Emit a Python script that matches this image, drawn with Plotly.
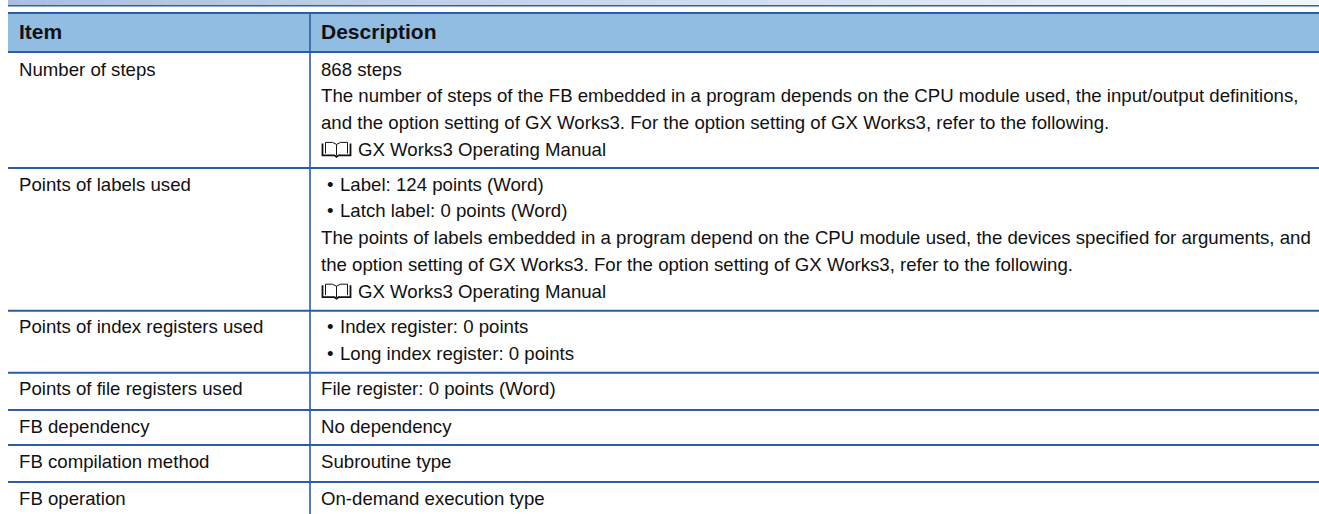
import plotly.graph_objects as go

W, H = 1319, 514
BLUE = "#2b5ca8"
HEAD = "#92bde3"
INK = "#111111"

header = ["Item", "Description"]
items = ["Number of steps", "Points of labels used", "Points of index registers used",
         "Points of file registers used", "FB dependency", "FB compilation method", "FB operation"]
descriptions = [
    ["868 steps",
     "The number of steps of the FB embedded in a program depends on the CPU module used, the input/output definitions,",
     "and the option setting of GX Works3. For the option setting of GX Works3, refer to the following.",
     "@GX Works3 Operating Manual"],
    ["\u2022Label: 124 points (Word)",
     "\u2022Latch label: 0 points (Word)",
     "The points of labels embedded in a program depend on the CPU module used, the devices specified for arguments, and",
     "the option setting of GX Works3. For the option setting of GX Works3, refer to the following.",
     "@GX Works3 Operating Manual"],
    ["\u2022Index register: 0 points", "\u2022Long index register: 0 points"],
    ["File register: 0 points (Word)"],
    ["No dependency"],
    ["Subroutine type"],
    ["On-demand execution type"],
]
row_bottoms = [168, 310.7, 372.7, 410, 445, 482, 520]

shapes, ann = [], []
def rect(x0, y0, x1, y1, c):
    shapes.append(dict(type="rect", xref="x", yref="y", x0=x0, x1=x1, y0=y0, y1=y1,
                       fillcolor=c, line_width=0, layer="below"))
def text(x, y, s, bold=False):
    ann.append(dict(x=x, y=y, xref="x", yref="y", text=f"<b>{s}</b>" if bold else s, showarrow=False,
                    xanchor="left", yanchor="middle", align="left", borderpad=0, borderwidth=0,
                    font=dict(family="Liberation Sans", size=21 if bold else 18.64, color=INK)))
def book(y):
    bx = 322.5
    for pts, w in (([(bx, y-6), (bx, y+6), (bx+12, y+6), (bx+14, y+7.5), (bx+16, y+6), (bx+28, y+6), (bx+28, y-6)], 1.8),
                   ([(bx+3, y+4), (bx+3, y-7), (bx+10, y-7), (bx+14, y-5), (bx+14, y+6)], 1),
                   ([(bx+25, y+4), (bx+25, y-7), (bx+18, y-7), (bx+14, y-5)], 1)):
        shapes.append(dict(type="path", xref="x", yref="y", line=dict(color=INK, width=w),
                           path="M" + " L".join(f"{a},{b}" for a, b in pts)))

# banner gradient
c0, c1 = (170, 191, 224), (242, 245, 250)
n = 100
for i in range(n):
    t = i / (n - 1)
    c = tuple(round(a + (b - a) * t) for a, b in zip(c0, c1))
    x0 = 8 + (W - 8) * i / n
    rect(x0, 0, x0 + (W - 8) / n + 0.5, 5, f"rgb{c}")
rect(8, 5, W, 6.5, "#1f6aa5")

rect(8, 14, W, 52, HEAD)
rect(8, 12, W, 14, BLUE)
rect(8, 51, W, 53, BLUE)
rect(309.2, 12, 310.8, H, BLUE)
text(18.5, 31, header[0], True)
text(321, 31, header[1], True)

top = 53
for it, lines, bot in zip(items, descriptions, row_bottoms):
    if bot < H:
        rect(8, bot - 1, W, bot + 1, BLUE)
    y0 = top + 16
    text(18.5, y0, it)
    for k, s in enumerate(lines):
        y = y0 + k * 26.8
        if s.startswith("@"):
            book(y)
            text(357.5, y, s[1:])
        elif s.startswith("\u2022"):
            text(327, y, s[0])
            text(340, y, s[1:])
        else:
            text(321, y, s)
    top = bot

fig = go.Figure()
fig.update_layout(width=W, height=H, margin=dict(l=0, r=0, t=0, b=0), paper_bgcolor="white",
                  plot_bgcolor="white", showlegend=False, shapes=shapes, annotations=ann,
                  xaxis=dict(range=[0, W], visible=False, fixedrange=True),
                  yaxis=dict(range=[H, 0], visible=False, fixedrange=True))
fig.write_html("out.html", config=dict(displayModeBar=False),
               post_script="document.body.style.margin='0';document.documentElement.style.overflow='hidden';")
